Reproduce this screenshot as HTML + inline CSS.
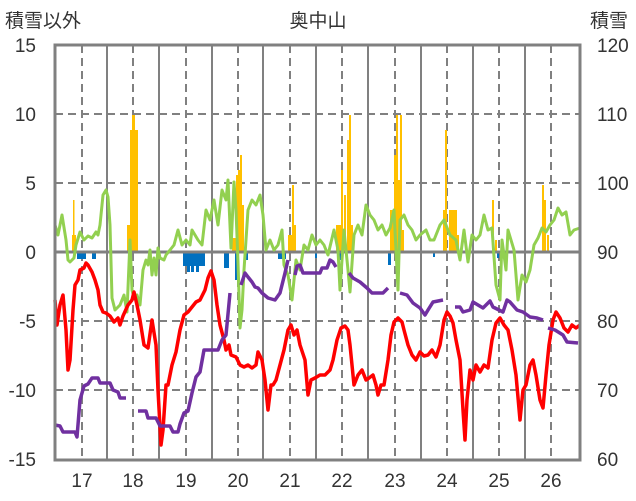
<!DOCTYPE html><html><head><meta charset="utf-8"><style>body{margin:0;background:#fff}svg{display:block}text{font-family:"Liberation Sans","Noto Sans CJK JP",sans-serif;font-size:19px;fill:#333}</style></head><body>
<svg width="636" height="501" xmlns="http://www.w3.org/2000/svg">
<g stroke="#808080" stroke-width="2" stroke-dasharray="8,5">
<line x1="55" y1="114" x2="580" y2="114"/><line x1="55" y1="183" x2="580" y2="183"/><line x1="55" y1="321" x2="580" y2="321"/><line x1="55" y1="390" x2="580" y2="390"/>
<line x1="82" y1="45" x2="82" y2="460"/><line x1="133" y1="45" x2="133" y2="460"/><line x1="186" y1="45" x2="186" y2="460"/><line x1="238" y1="45" x2="238" y2="460"/><line x1="290" y1="45" x2="290" y2="460"/><line x1="342" y1="45" x2="342" y2="460"/><line x1="395" y1="45" x2="395" y2="460"/><line x1="447" y1="45" x2="447" y2="460"/><line x1="499" y1="45" x2="499" y2="460"/><line x1="551" y1="45" x2="551" y2="460"/>
</g>
<g stroke="#808080" stroke-width="2">
<line x1="107" y1="45" x2="107" y2="460"/><line x1="159" y1="45" x2="159" y2="460"/><line x1="212" y1="45" x2="212" y2="460"/><line x1="263" y1="45" x2="263" y2="460"/><line x1="316" y1="45" x2="316" y2="460"/><line x1="368" y1="45" x2="368" y2="460"/><line x1="421" y1="45" x2="421" y2="460"/><line x1="473" y1="45" x2="473" y2="460"/><line x1="525" y1="45" x2="525" y2="460"/>
</g>
<g fill="#FFC000">
<rect x="72" y="235" width="4" height="17"/><rect x="73" y="200" width="1.5" height="52"/>
<rect x="127" y="225" width="4" height="27"/><rect x="130" y="130" width="2" height="122"/><rect x="132" y="115" width="3" height="137"/><rect x="135" y="130" width="3" height="122"/>
<rect x="232" y="238" width="4" height="14"/><rect x="236" y="175" width="2" height="77"/><rect x="238" y="170" width="2" height="82"/><rect x="240" y="155" width="2" height="97"/><rect x="242" y="205" width="2" height="47"/>
<rect x="288" y="235" width="4" height="17"/><rect x="292" y="185" width="2" height="67"/><rect x="294" y="225" width="2" height="27"/>
<rect x="336" y="225" width="5" height="27"/><rect x="341" y="170" width="2" height="82"/><rect x="344" y="195" width="2" height="57"/><rect x="347" y="140" width="2" height="112"/><rect x="349" y="115" width="2" height="137"/><rect x="351" y="225" width="2" height="27"/>
<rect x="390" y="210" width="4" height="42"/><rect x="394" y="155" width="2" height="97"/><rect x="396" y="115" width="2" height="137"/><rect x="398" y="180" width="2" height="72"/><rect x="400" y="115" width="2" height="137"/><rect x="402" y="230" width="2" height="22"/>
<rect x="443" y="210" width="2" height="42"/><rect x="445" y="130" width="2" height="122"/><rect x="449" y="210" width="2" height="42"/><rect x="451" y="210" width="6" height="42"/><rect x="457" y="235" width="2" height="17"/>
<rect x="492" y="200" width="2" height="52"/><rect x="495" y="240" width="2" height="12"/>
<rect x="542" y="185" width="2" height="67"/><rect x="544" y="200" width="2" height="52"/><rect x="547" y="235" width="2" height="17"/>
</g>
<g fill="#0070C0">
<rect x="77" y="252" width="9" height="7"/><rect x="92" y="252" width="4" height="7"/><rect x="183" y="252" width="22" height="14"/><rect x="187" y="252" width="3" height="20"/><rect x="191" y="252" width="3" height="20"/><rect x="196" y="252" width="3" height="20"/><rect x="224" y="252" width="5" height="16"/><rect x="235" y="252" width="2" height="28"/><rect x="246" y="252" width="2" height="8"/><rect x="278" y="252" width="8" height="7"/><rect x="315" y="252" width="2" height="6"/><rect x="339" y="252" width="2" height="8"/><rect x="388" y="252" width="3" height="13"/><rect x="433" y="252" width="2" height="5"/><rect x="497" y="252" width="2" height="6"/>
</g>
<line x1="55" y1="252" x2="580" y2="252" stroke="#808080" stroke-width="3"/>
<g fill="none" stroke-width="3" stroke-linejoin="round">
<polyline stroke="#92D050" points="55,225 58,235 62,215 66,240 68,260 70,262 74,258 76,245 80,232 84,240 88,236 92,238 96,232 98,235 100,225 103,195 106,190 108,197 110,225 112,298 115,310 120,305 124,295 127,312 130,240 132,290 134,298 137,295 140,305 143,270 146,260 148,265 150,250 152,275 154,258 156,275 158,248 160,258 164,260 166,255 170,250 174,245 178,230 182,245 186,240 190,245 192,230 198,240 202,245 206,210 210,220 214,200 218,225 222,190 226,200 228,180 231,248 234,182 236,210 238,262 240,328 242,310 244,270 248,210 252,200 256,205 260,195 263,215 266,250 270,240 274,250 278,245 282,230 284,265 288,275 292,300 296,260 300,270 304,245 308,250 312,235 316,245 320,240 324,245 328,255 334,230 338,250 340,290 344,230 348,270 350,292 354,235 358,225 362,235 366,205 370,215 374,220 378,230 382,225 386,235 390,228 394,210 398,290 400,220 404,215 408,225 412,230 416,240 420,235 426,230 430,240 434,240 440,225 444,220 450,235 456,240 460,260 464,230 468,262 472,235 476,240 480,235 484,215 488,230 492,228 496,285 500,300 502,240 506,270 508,230 514,250 518,300 522,275 526,282 530,270 534,245 538,238 542,228 546,232 550,225 554,220 558,208 562,215 566,212 570,235 574,230 580,228"/>
<polyline stroke="#FF0000" stroke-width="3.5" points="55,300 57,325 60,305 63,295 66,330 68,370 70,360 73,310 75,285 78,280 80,270 84,268 86,263 88,265 92,272 95,280 98,290 100,305 103,312 106,313 110,316 114,322 118,318 120,325 123,316 128,305 132,300 134,292 137,305 140,320 144,345 148,348 152,320 156,345 158,390 161,445 163,430 166,385 168,385 172,365 176,352 180,330 184,315 188,312 192,307 196,302 200,300 205,290 208,278 211,271 214,280 217,305 220,325 224,340 226,350 229,345 231,355 236,357 240,365 244,367 248,365 252,368 256,365 258,352 262,360 265,380 268,410 271,385 273,385 276,380 280,365 284,350 288,330 291,325 294,335 297,330 300,345 305,360 308,395 311,380 315,378 320,375 325,375 330,370 333,360 337,340 341,328 345,326 348,330 350,345 354,385 358,375 362,370 366,380 369,378 373,375 376,385 378,395 381,385 384,385 388,360 391,335 394,322 398,318 402,322 404,330 408,345 412,355 416,360 420,352 424,356 428,355 432,350 436,357 440,345 444,320 447,312 450,316 453,323 456,340 460,360 463,410 465,440 467,400 470,370 473,380 476,365 480,372 484,365 488,368 492,340 496,323 500,318 504,325 508,330 512,350 516,375 520,420 523,390 526,385 530,365 533,360 536,375 540,400 543,408 546,375 549,345 553,320 556,312 560,318 564,328 568,332 572,325 576,328 580,325"/>
<g stroke="#7030A0" stroke-width="3.5">
<polyline points="55,425 60,426 63,432 75,432 77,437 80,400 84,386 88,384 92,378 98,378 100,383 110,383 113,390 118,392 120,398 126,398"/>
<polyline points="138,411 146,411 148,418 156,418 160,426 170,426 173,432 178,432 180,424 184,413 188,411 192,393 196,377 200,372 204,350 218,350 222,340 226,335 230,293"/>
<polyline points="241,285 245,273 248,277 252,282 255,287 258,288 262,293 268,298 275,300 280,293 285,273 288,260"/>
<polyline points="295,275 297,266 300,265 303,273 320,273 322,268 327,268 330,260 333,262 336,267"/>
<polyline points="349,273 353,278 360,282 367,288 372,293 383,293 388,288"/>
<polyline points="400,293 407,295 413,303 420,308 425,315 428,310 433,302 443,300"/>
<polyline points="455,307 460,307 463,312 470,310 473,302 478,305 483,308 490,301 493,307 503,312 507,300 510,302 517,310 523,312 530,317 537,318 543,320"/>
<polyline points="548,328 555,330 563,335 567,342 578,343"/>
</g></g>
<rect x="55" y="45" width="525" height="415" fill="none" stroke="#808080" stroke-width="3"/>
<text x="5" y="27">積雪以外</text><text x="318" y="27" text-anchor="middle">奥中山</text><text x="590" y="27">積雪</text>
<g text-anchor="end"><text x="36" y="52">15</text><text x="36" y="121">10</text><text x="36" y="190">5</text><text x="36" y="259">0</text><text x="36" y="328">-5</text><text x="36" y="397">-10</text><text x="36" y="466">-15</text></g>
<g><text x="597" y="52">120</text><text x="597" y="121">110</text><text x="597" y="190">100</text><text x="597" y="259">90</text><text x="597" y="328">80</text><text x="597" y="397">70</text><text x="597" y="466">60</text></g>
<g text-anchor="middle"><text x="82" y="487">17</text><text x="133" y="487">18</text><text x="186" y="487">19</text><text x="238" y="487">20</text><text x="290" y="487">21</text><text x="342" y="487">22</text><text x="395" y="487">23</text><text x="447" y="487">24</text><text x="499" y="487">25</text><text x="551" y="487">26</text></g>
</svg></body></html>
